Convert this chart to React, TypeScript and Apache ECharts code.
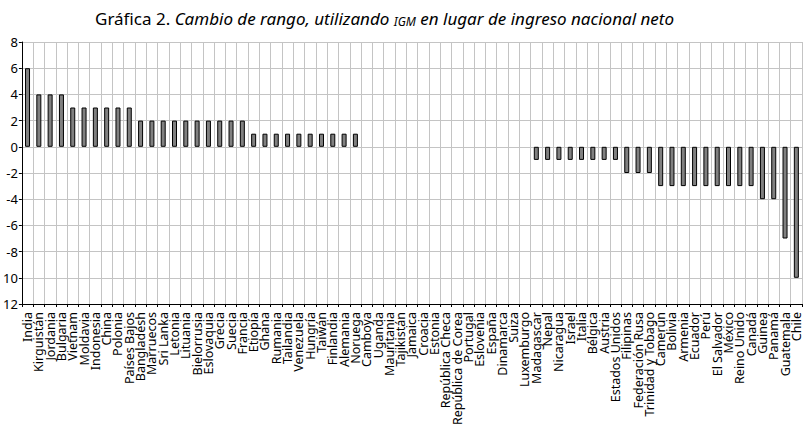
import React, { useEffect, useRef } from "react";
import * as echarts from "echarts";

const categories = [
  "India", "Kirguistán", "Jordania", "Bulgaria", "Vietnam", "Moldavia", "Indonesia", "China", "Polonia", "Países Bajos",
  "Bangladesh", "Marruecos", "Sri Lanka", "Letonia", "Lituania", "Bielorrusia", "Eslovaquia", "Grecia", "Suecia", "Francia",
  "Etiopía", "Ghana", "Rumania", "Tailandia", "Venezuela", "Hungría", "Taiwán", "Finlandia", "Alemania", "Noruega",
  "Camboya", "Uganda", "Mauritania", "Tajikistán", "Jamaica", "Croacia", "Estonia", "República Checa", "República de Corea", "Portugal",
  "Eslovenia", "España", "Dinamarca", "Suiza", "Luxemburgo", "Madagascar", "Nepal", "Nicaragua", "Israel", "Italia",
  "Bélgica", "Austria", "Estados Unidos", "Filipinas", "Federación Rusa", "Trinidad y Tobago", "Camerún", "Bolivia", "Armenia", "Ecuador",
  "Perú", "El Salvador", "México", "Reino Unido", "Canadá", "Guinea", "Panamá", "Guatemala", "Chile",
];

const rankChange = [
  6, 4, 4, 4, 3, 3, 3, 3, 3, 3,
  2, 2, 2, 2, 2, 2, 2, 2, 2, 2,
  1, 1, 1, 1, 1, 1, 1, 1, 1, 1,
  0, 0, 0, 0, 0, 0, 0, 0, 0, 0,
  0, 0, 0, 0, 0, -1, -1, -1, -1, -1,
  -1, -1, -1, -2, -2, -2, -3, -3, -3, -3,
  -3, -3, -3, -3, -3, -4, -4, -7, -10,
];

const yMin = -12;
const yMax = 8;
const yStep = 2;

export default function App() {
  const ref = useRef<HTMLDivElement>(null);
  useEffect(() => {
    if (!ref.current) return;
    const chart = echarts.init(ref.current, null, { renderer: "svg" });
    const font = "'Noto Sans', 'Open Sans', sans-serif";
    const barData = rankChange.map((v) =>
      v === 0 ? { value: v, itemStyle: { borderWidth: 0 } } : v
    );
    chart.setOption({
      animation: false,
      backgroundColor: "#ffffff",
      title: {
        text: "{a|Gráfica 2. }{b|Cambio de rango, utilizando }{c|IGM}{b| en lugar de ingreso nacional neto}",
        left: 90,
        top: 0,
        textStyle: {
          fontWeight: "normal",
          rich: {
            a: { fontFamily: font, fontSize: 17, lineHeight: 22, verticalAlign: "bottom", color: "#000", fontStyle: "normal", fontWeight: "normal" },
            b: { fontFamily: font, fontSize: 17, lineHeight: 22, verticalAlign: "bottom", color: "#000", fontStyle: "italic", fontWeight: "normal" },
            c: { fontFamily: font, fontSize: 12, lineHeight: 19, verticalAlign: "bottom", color: "#000", fontStyle: "italic", fontWeight: "normal" },
          },
        },
      },
      grid: { left: 21, right: 2, top: 42, bottom: 128, containLabel: false },
      xAxis: {
        type: "category",
        data: categories,
        position: "bottom",
        axisLine: { onZero: false, lineStyle: { color: "#000", width: 1 } },
        axisTick: { show: true, length: 3, lineStyle: { color: "#000" } },
        axisLabel: {
          rotate: 90,
          interval: 0,
          fontFamily: font,
          fontSize: 12.5,
          color: "#000",
          margin: 8,
        },
        splitLine: { show: true, interval: 0, lineStyle: { color: "#c4c4c4", width: 1 } },
      },
      yAxis: {
        type: "value",
        min: yMin,
        max: yMax,
        interval: yStep,
        axisLine: { show: true, lineStyle: { color: "#000", width: 1 } },
        axisTick: { show: true, length: 3, lineStyle: { color: "#000" } },
        axisLabel: {
          fontFamily: font,
          fontSize: 13,
          color: "#000",
          margin: 4,
          formatter: (v: number) => (v < -9 ? String(-v) : String(v)),
        },
        splitLine: { show: true, lineStyle: { color: "#c4c4c4", width: 1 } },
      },
      series: [
        {
          type: "bar",
          data: barData,
          barWidth: 5,
          itemStyle: { color: "#808080", borderColor: "#000", borderWidth: 1 },
        },
      ],
    });
    return () => chart.dispose();
  }, []);
  return (
    <div
      ref={ref}
      style={{ position: "fixed", left: 0, top: 0, width: 804, height: 432 }}
    />
  );
}
